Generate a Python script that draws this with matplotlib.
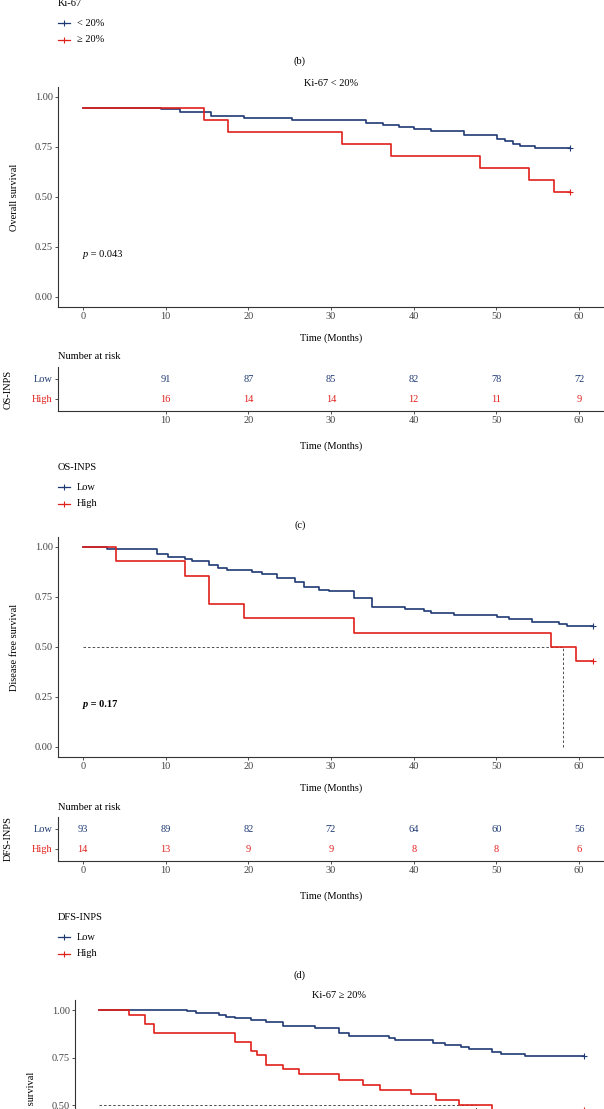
import matplotlib
matplotlib.use("Agg")
import matplotlib.pyplot as plt
from matplotlib.lines import Line2D

W, H = 604, 1109
NAVY = "#1F3A73"
RED = "#E0201B"
AXC = "#333333"
plt.rcParams['font.family'] = ['Liberation Serif', 'DejaVu Serif']
plt.rcParams['font.size'] = 7.5

# ---- data ----
ki_labels = ["< 20%", "\u2265 20%"]
inps_labels = ["Low", "High"]

# (c) Ki-67 < 20%, overall survival by OS-INPS
os_low_t = [0, 9.5, 11.8, 15.5, 19.5, 25.3, 34.2, 36.3, 38.2, 40.0, 42.1, 46.1,
            50.1, 51.0, 52.0, 52.9, 54.7, 58.9]
os_low_s = [0.947, 0.938, 0.925, 0.905, 0.895, 0.883, 0.872, 0.862, 0.852, 0.842,
            0.830, 0.810, 0.789, 0.779, 0.767, 0.757, 0.747, 0.747]
os_high_t = [0, 14.6, 17.6, 31.3, 37.2, 48.0, 53.9, 56.9, 58.9]
os_high_s = [0.947, 0.887, 0.825, 0.767, 0.707, 0.646, 0.586, 0.526, 0.526]
os_p = "0.043"
risk_t_c = [10, 20, 30, 40, 50, 60]
risk_low_c = [91, 87, 85, 82, 78, 72]
risk_high_c = [16, 14, 14, 12, 11, 9]

# (d) disease free survival by DFS-INPS
dfs_low_t = [0, 2.9, 9.0, 10.3, 12.3, 13.2, 15.3, 16.4, 17.4, 20.4, 21.6, 23.5,
             25.6, 26.7, 28.6, 29.8, 32.8, 34.9, 38.9, 41.2, 42.1, 44.9, 50.1,
             51.5, 54.3, 57.5, 58.5, 61.7]
dfs_low_s = [1.0, 0.99, 0.967, 0.95, 0.94, 0.928, 0.908, 0.895, 0.887, 0.875,
             0.865, 0.845, 0.823, 0.798, 0.787, 0.778, 0.745, 0.700, 0.690,
             0.682, 0.672, 0.660, 0.648, 0.638, 0.627, 0.615, 0.607, 0.603]
dfs_high_t = [0, 4.0, 12.3, 15.3, 19.5, 32.8, 56.6, 59.6, 61.7]
dfs_high_s = [1.0, 0.929, 0.857, 0.714, 0.643, 0.571, 0.500, 0.429, 0.429]
dfs_p = "0.17"
dfs_median = 58.1
risk_t_d = [0, 10, 20, 30, 40, 50, 60]
risk_low_d = [93, 89, 82, 72, 64, 60, 56]
risk_high_d = [14, 13, 9, 9, 8, 8, 6]

# next panel, Ki-67 >= 20%, overall survival (cut off at the bottom)
os2_low_t = [0, 11.2, 12.4, 15.3, 16.2, 17.4, 19.4, 21.3, 23.5, 27.5, 30.6, 31.9,
             37.0, 37.7, 42.6, 44.1, 46.1, 47.1, 50.0, 51.2, 54.2, 61.7]
os2_low_s = [1.0, 0.993, 0.984, 0.975, 0.965, 0.956, 0.946, 0.935, 0.916, 0.904,
             0.878, 0.866, 0.855, 0.841, 0.829, 0.816, 0.806, 0.794, 0.780, 0.769,
             0.759, 0.759]
os2_high_t = [0, 3.9, 5.9, 7.1, 17.4, 19.4, 20.2, 21.3, 23.5, 25.5, 30.6, 33.6,
              35.8, 39.7, 42.9, 45.9, 50.0, 61.7]
os2_high_s = [1.0, 0.976, 0.929, 0.881, 0.833, 0.786, 0.762, 0.714, 0.690, 0.667,
              0.633, 0.607, 0.583, 0.557, 0.530, 0.500, 0.476, 0.476]
os2_median = 48.0

x_ticks = [0, 10, 20, 30, 40, 50, 60]
y_ticks = [0.0, 0.25, 0.5, 0.75, 1.0]


def fy(y):
    return 1 - y / H


def px_axes(fig, left, top, right, bottom):
    return fig.add_axes([left / W, 1 - bottom / H, (right - left) / W, (bottom - top) / H])


def style(ax):
    for s in ['top', 'right']:
        ax.spines[s].set_visible(False)
    for s in ['left', 'bottom']:
        ax.spines[s].set_linewidth(0.8)
        ax.spines[s].set_color(AXC)
    ax.tick_params(length=2.2, width=0.6, pad=1.5, colors=AXC, labelcolor="#444444")
    ax.patch.set_alpha(0)


def km_panel(fig, left, right, y1, ppu, xlim, curves, median=None, y_bottom=None):
    # y_bottom: pixel row where the panel is cut by the figure edge
    ymin = -0.05
    bottom = y1 + 1.05 * ppu
    if y_bottom is not None:
        bottom = y_bottom
        ymin = 1 - (y_bottom - y1) / ppu
    ax = px_axes(fig, left, y1 - 0.05 * ppu, right, bottom)
    for t, s, c in curves:
        ax.step(t, s, where='post', color=c, lw=1.2)
        ax.plot(t[-1], s[-1], marker='+', color=c, ms=5, mew=0.8, clip_on=False)
    if median is not None:
        ax.plot([0, median], [0.5, 0.5], ls=(0, (3, 2.5)), color="#333333", lw=0.6, zorder=1)
        ax.plot([median, median], [0, 0.5], ls=(0, (3, 2.5)), color="#333333", lw=0.6, zorder=1)
    ax.set_xlim(*xlim)
    ax.set_ylim(ymin, 1.05)
    ax.set_xticks(x_ticks)
    ticks = [v for v in y_ticks if v >= ymin - 0.01]
    ax.set_yticks(ticks)
    ax.set_yticklabels([f"{v:.2f}" for v in ticks])
    style(ax)
    if y_bottom is not None:
        ax.spines['bottom'].set_visible(False)
        ax.tick_params(axis='x', bottom=False, labelbottom=False)
    return ax


def p_text(ax, val, bold=False):
    w = 'bold' if bold else 'normal'
    t = ax.text(0, 0.2, "p", style='italic', weight=w, ha='left', va='baseline')
    ax.annotate(" = " + val, xy=(1, 0), xycoords=t, va='bottom', ha='left', weight=w)


def risk_table(fig, left, right, top, bottom, xlim, times, low, high, ticks):
    ax = px_axes(fig, left, top, right, bottom)
    for t, n in zip(times, low):
        ax.text(t, 1, str(n), color=NAVY, ha='center', va='center')
    for t, n in zip(times, high):
        ax.text(t, 0, str(n), color=RED, ha='center', va='center')
    ax.set_xlim(*xlim)
    ax.set_ylim(-0.6, 1.6)
    ax.set_xticks(ticks)
    ax.set_yticks([0, 1])
    ax.set_yticklabels(["High", "Low"])
    style(ax)
    lbls = ax.get_yticklabels()
    lbls[0].set_color(RED)
    lbls[1].set_color(NAVY)
    return ax


def legend_block(fig, title, labels, y_title):
    fig.text(58 / W, fy(y_title), title, ha='left', va='center')
    for i, (lab, c) in enumerate(zip(labels, [NAVY, RED])):
        yy = fy(y_title + 19 + 17 * i)
        fig.add_artist(Line2D([58 / W, 70 / W], [yy, yy], color=c, lw=0.9))
        fig.add_artist(Line2D([64 / W], [yy], marker='+', color=c, ms=5, mew=0.8))
        fig.text(77 / W, yy, lab, ha='left', va='center')


fig = plt.figure(figsize=(W / 100, H / 100), dpi=100)

# panel (b) legend tail
legend_block(fig, "Ki-67", ki_labels, 4)
fig.text(300 / W, fy(61), "(b)", ha='center', va='center')

# panel (c)
fig.text(331 / W, fy(83), "Ki-67 < 20%", ha='center', va='center')
ax1 = km_panel(fig, 58, 604, 97, 200, (-3, 63),
               [(os_low_t, os_low_s, NAVY), (os_high_t, os_high_s, RED)])
p_text(ax1, os_p)
fig.text(15 / W, fy(197), "Overall survival", rotation=90, ha='center', va='center')
fig.text(331 / W, fy(338), "Time (Months)", ha='center', va='center')
fig.text(58 / W, fy(357), "Number at risk", ha='left', va='center')
risk_table(fig, 58, 604, 367, 411, (-3, 63), risk_t_c, risk_low_c, risk_high_c, risk_t_c)
fig.text(8 / W, fy(389), "OS-INPS", rotation=90, ha='center', va='center')
fig.text(331 / W, fy(446), "Time (Months)", ha='center', va='center')
legend_block(fig, "OS-INPS", inps_labels, 468)
fig.text(300 / W, fy(525), "(c)", ha='center', va='center')

# panel (d)
ax2 = km_panel(fig, 58, 604, 547, 200, (-3, 63),
               [(dfs_low_t, dfs_low_s, NAVY), (dfs_high_t, dfs_high_s, RED)],
               median=dfs_median)
p_text(ax2, dfs_p, bold=True)
fig.text(15 / W, fy(647), "Disease free survival", rotation=90, ha='center', va='center')
fig.text(331 / W, fy(788), "Time (Months)", ha='center', va='center')
fig.text(58 / W, fy(808), "Number at risk", ha='left', va='center')
risk_table(fig, 58, 604, 817, 861, (-3, 63), risk_t_d, risk_low_d, risk_high_d, risk_t_d)
fig.text(8 / W, fy(839), "DFS-INPS", rotation=90, ha='center', va='center')
fig.text(331 / W, fy(896), "Time (Months)", ha='center', va='center')
legend_block(fig, "DFS-INPS", inps_labels, 918)
fig.text(300 / W, fy(975), "(d)", ha='center', va='center')

# next panel, Ki-67 >= 20% (only its top is inside the picture)
fig.text(339 / W, fy(996), "Ki-67 \u2265 20%", ha='center', va='center')
ax3 = km_panel(fig, 75, 604, 1010, 190.7, (-3, 64.3),
               [(os2_low_t, os2_low_s, NAVY), (os2_high_t, os2_high_s, RED)],
               median=os2_median, y_bottom=H)
fig.text(32 / W, fy(1105), "Overall survival", rotation=90, ha='center', va='center')

fig.savefig("out.png", dpi=100, facecolor='white')
